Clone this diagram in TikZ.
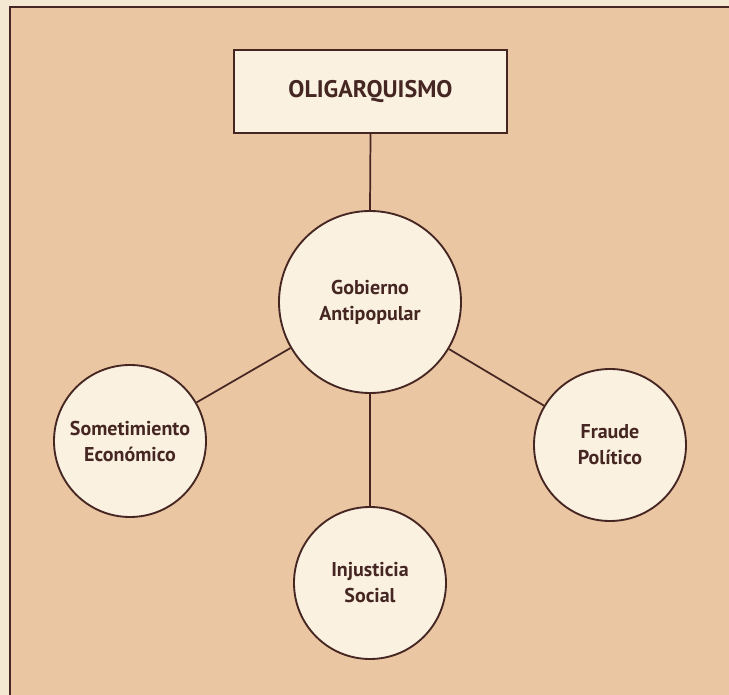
\documentclass[tikz,border=0pt]{standalone}
\usepackage{fontspec}
\setmainfont{PT Sans}
\definecolor{paper}{HTML}{EAC6A2}
\definecolor{margin}{HTML}{F4E8D3}
\definecolor{cream}{HTML}{FAF1E0}
\definecolor{ink}{HTML}{452622}
\tikzset{
  bubble/.style={circle, draw=ink, line width=1.4pt, fill=cream, align=center,
    inner sep=0pt, text=ink, font=\bfseries\fontsize{15}{19.5}\selectfont},
  titlebox/.style={rectangle, draw=ink, line width=1.4pt, fill=cream,
    minimum width=204.75pt, minimum height=62.25pt, text=ink,
    font=\bfseries\fontsize{18}{22}\selectfont},
  link/.style={draw=ink, line width=1.3pt}
}
\begin{document}
\begin{tikzpicture}[x=0.75pt,y=-0.75pt]
\useasboundingbox (0,0) rectangle (729,695);
\fill[margin] (0,0) rectangle (729,695);
\fill[paper] (10,7) rectangle (729,695);
\draw[ink, line width=1.5pt] (10,695) -- (10,7) -- (729,7);

\node[titlebox] (olig) at (370.5,91.5) {OLIGARQUISMO};
\node[bubble, minimum size=136.5pt] (gob) at (370,302) {Gobierno\\Antipopular};
\node[bubble, minimum size=114pt] (som) at (130,441) {Sometimiento\\Económico};
\node[bubble, minimum size=114pt] (fra) at (610,445) {Fraude\\Político};
\node[bubble, minimum size=114pt] (inj) at (370,583) {Injusticia\\Social};

\draw[link] (olig.south) -- (gob.north);
\draw[link] (gob) -- (som);
\draw[link] (gob) -- (fra);
\draw[link] (gob.south) -- (inj.north);
\end{tikzpicture}
\end{document}
